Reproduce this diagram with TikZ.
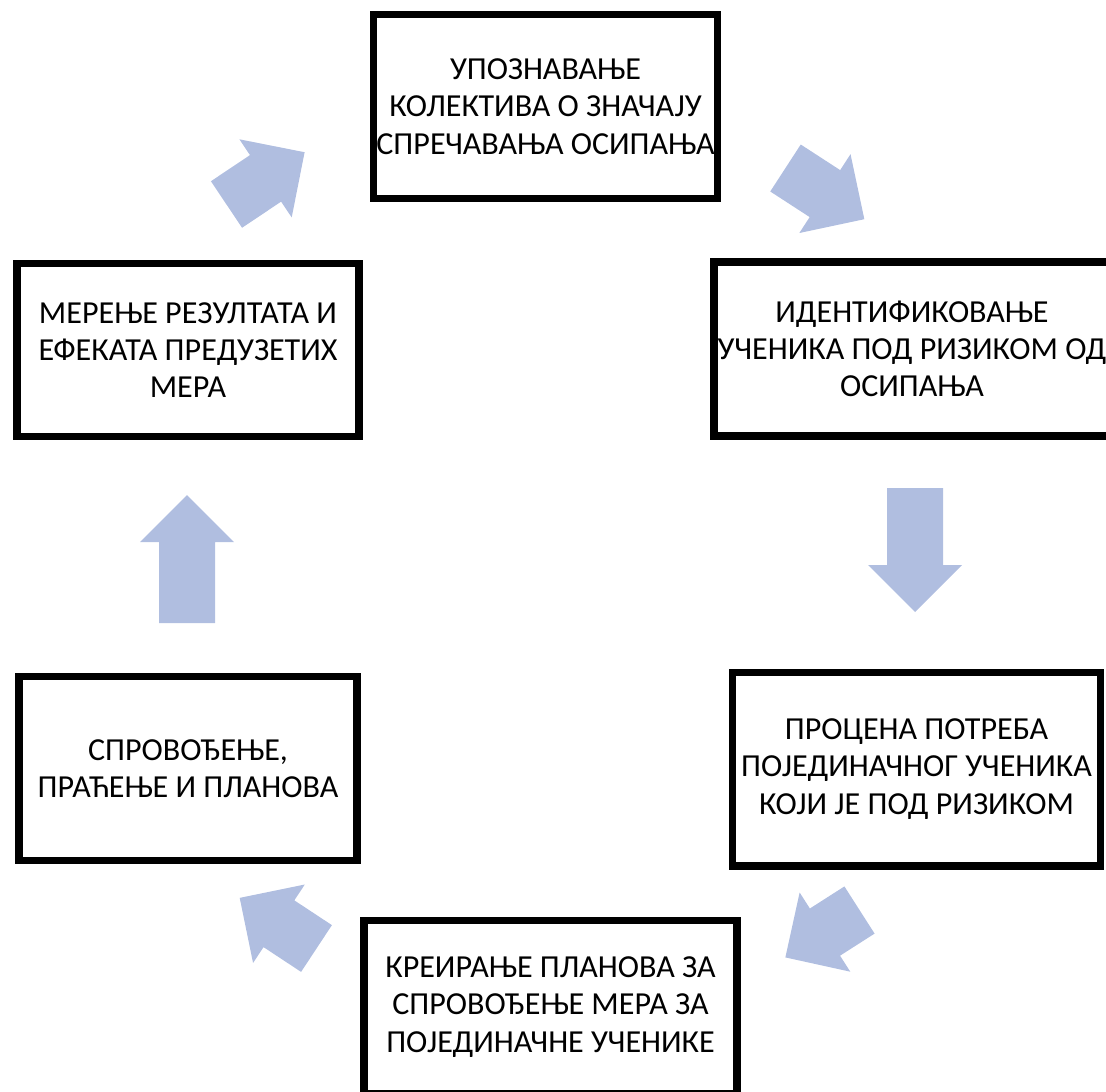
\documentclass[tikz,border=0pt]{standalone}
\usepackage{fontspec}
\setmainfont{Carlito}
\definecolor{arrowblue}{RGB}{176,190,224}
\begin{document}
\begin{tikzpicture}[x=0.025cm,y=-0.025cm,
    stepbox/.style={draw,line width=5.5pt,align=center,inner sep=0pt,
      font=\fontsize{22.8}{26.5}\selectfont},
    blockarrow/.style={fill=arrowblue}]
      \clip (0,0) rectangle (1106,1092);
      \draw
        (545.5,106.5) node[stepbox,minimum width=8.6cm,minimum height=4.6cm] (0){УПОЗНАВАЊЕ\\КОЛЕКТИВА О ЗНАЧАЈУ\\СПРЕЧАВАЊА ОСИПАЊА}
        (912,349) node[stepbox,minimum width=9.9cm,minimum height=4.34cm] (1){ИДЕНТИФИКОВАЊЕ\\УЧЕНИКА ПОД РИЗИКОМ ОД\\ОСИПАЊА}
        (916.5,769) node[stepbox,minimum width=9.2cm,minimum height=4.83cm] (2){ПРОЦЕНА ПОТРЕБА\\ПОЈЕДИНАЧНОГ УЧЕНИКА\\КОЈИ ЈЕ ПОД РИЗИКОМ}
        (550.5,1007) node[stepbox,minimum width=9.33cm,minimum height=4.33cm] (3){КРЕИРАЊЕ ПЛАНОВА ЗА\\СПРОВОЂЕЊЕ МЕРА ЗА\\ПОЈЕДИНАЧНЕ УЧЕНИКЕ}
        (188,768.5) node[stepbox,minimum width=8.43cm,minimum height=4.6cm] (4){СПРОВОЂЕЊЕ,\\ПРАЋЕЊЕ И ПЛАНОВА}
        (188,350) node[stepbox,minimum width=8.53cm,minimum height=4.33cm] (5){МЕРЕЊЕ РЕЗУЛТАТА И\\ЕФЕКАТА ПРЕДУЗЕТИХ\\МЕРА};
      % block arrows: tail centre / angle / length
      \foreach \x/\y/\a/\len in {785.5/168/-33/94, 915/488/-90/124, 859.5/910/212.6/88,
          316.5/948.5/146.6/92, 187/623/90/128, 226.5/204.5/33.8/94}
        \fill[blockarrow,shift={(\x,\y)},rotate=\a]
          (0,-28) -- (\len-47,-28) -- (\len-47,-47) -- (\len,0)
          -- (\len-47,47) -- (\len-47,28) -- (0,28) -- cycle;
    \end{tikzpicture}
\end{document}
